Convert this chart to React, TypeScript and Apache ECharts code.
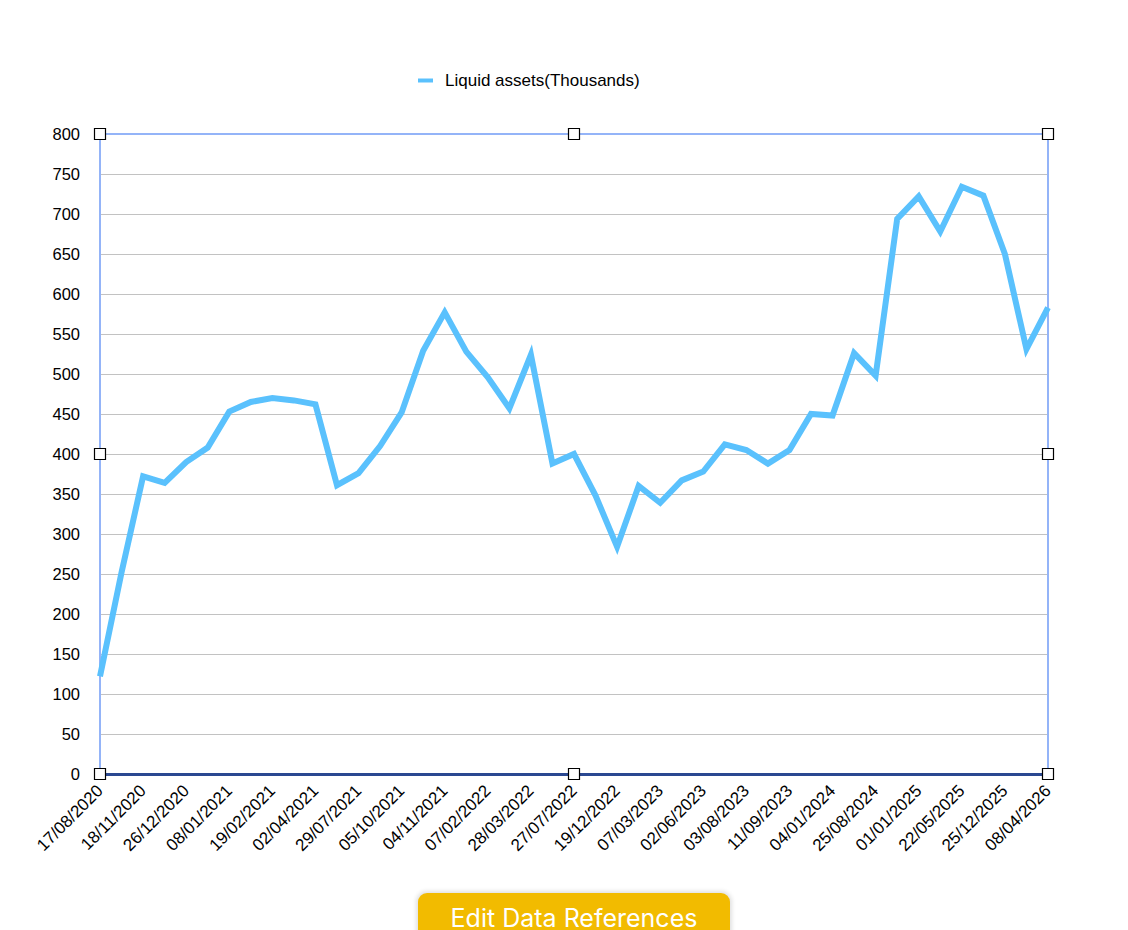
import React, { useEffect, useRef } from "react";
import * as echarts from "echarts";

const shownDates = [
  "17/08/2020", "18/11/2020", "26/12/2020", "08/01/2021", "19/02/2021", "02/04/2021",
  "29/07/2021", "05/10/2021", "04/11/2021", "07/02/2022", "28/03/2022", "27/07/2022",
  "19/12/2022", "07/03/2023", "02/06/2023", "03/08/2023", "11/09/2023", "04/01/2024",
  "25/08/2024", "01/01/2025", "22/05/2025", "25/12/2025", "08/04/2026",
];

// 45 points; every other category carries a visible label
const categories: string[] = [];
shownDates.forEach((d, i) => {
  categories.push(d);
  if (i < shownDates.length - 1) categories.push("");
});

const liquidAssets = [
  122, 252, 372, 364, 390, 408, 453, 465, 470, 467, 462,
  361, 376, 410, 452, 529, 577, 528, 496, 457, 524,
  388, 400, 348, 284, 360, 339, 367, 378, 412, 405,
  388, 405, 450, 448, 526, 498, 694, 722, 678, 734,
  723, 650, 531, 583,
];

const yTicks = { min: 0, max: 800, interval: 50 };

const GRID = { left: 100, right: 80, top: 134, bottom: 156 };
const W = 1128;
const H = 930;
const FRAME = "#94b4f8";

export default function App() {
  const ref = useRef<HTMLDivElement>(null);
  useEffect(() => {
    if (!ref.current) return;
    const chart = echarts.init(ref.current, null, { renderer: "svg" });
    const x0 = GRID.left;
    const x1 = W - GRID.right;
    const y0 = GRID.top;
    const y1 = H - GRID.bottom;
    const xm = (x0 + x1) / 2;
    const ym = (y0 + y1) / 2;
    const hs = 11;
    const handles = [
      [x0, y0], [xm, y0], [x1, y0],
      [x0, ym], [x1, ym],
      [x0, y1], [xm, y1], [x1, y1],
    ].map(([x, y]) => ({
      type: "rect",
      shape: { x: x - hs / 2, y: y - hs / 2, width: hs, height: hs },
      style: { fill: "#ffffff", stroke: "#000000", lineWidth: 1.2 },
      z: 100,
    }));
    chart.setOption({
      animation: false,
      backgroundColor: "#ffffff",
      textStyle: { fontFamily: "Liberation Sans, Arial, sans-serif" },
      legend: {
        left: 413,
        top: 67,
        icon: "rect",
        itemWidth: 15,
        itemHeight: 4,
        textStyle: { fontSize: 17, color: "#000", padding: [0, 0, 0, 7] },
        data: ["Liquid assets(Thousands)"],
      },
      grid: { ...GRID, containLabel: false },
      xAxis: [
        {
          type: "category",
          data: categories,
          boundaryGap: false,
          axisLine: { show: true, onZero: false, lineStyle: { color: "#2a4891", width: 3 } },
          axisTick: { show: false },
          splitLine: { show: false },
          axisLabel: {
            interval: 1,
            rotate: 45,
            fontSize: 17,
            color: "#000",
            margin: 14,
          },
          z: 10,
        },
        {
          type: "category",
          data: categories,
          position: "top",
          boundaryGap: false,
          axisLine: { show: true, onZero: false, lineStyle: { color: FRAME, width: 2 } },
          axisTick: { show: false },
          axisLabel: { show: false },
          splitLine: { show: false },
          z: 10,
        },
      ],
      yAxis: [
        {
          type: "value",
          ...yTicks,
          axisLine: { show: true, onZero: false, lineStyle: { color: FRAME, width: 2 } },
          axisTick: { show: false },
          splitLine: { show: true, lineStyle: { color: "#c2c2c2", width: 1 } },
          axisLabel: { fontSize: 16.5, color: "#000", margin: 20 },
        },
        {
          type: "value",
          ...yTicks,
          position: "right",
          axisLine: { show: true, onZero: false, lineStyle: { color: FRAME, width: 2 } },
          axisTick: { show: false },
          splitLine: { show: false },
          axisLabel: { show: false },
        },
      ],
      series: [
        {
          name: "Liquid assets(Thousands)",
          type: "line",
          data: liquidAssets,
          symbol: "none",
          color: "#5ac1fd",
          lineStyle: { color: "#5ac1fd", width: 6, join: "miter", miterLimit: 10 },
          z: 5,
        },
      ],
      graphic: handles,
    });
    return () => chart.dispose();
  }, []);
  return (
    <div style={{ position: "absolute", left: 0, top: 0, width: W, height: H, overflow: "hidden", background: "#fff" }}>
      <div ref={ref} style={{ position: "absolute", left: 0, top: 0, width: W, height: H }} />
      <div
        style={{
          position: "absolute",
          left: 418,
          top: 893,
          width: 312,
          height: 50,
          background: "#f2bb00",
          borderRadius: 9,
          boxShadow: "0 0 4px 2px rgba(0,0,0,0.12)",
          color: "#fff",
          fontFamily: "Inter, 'Open Sans', sans-serif",
          fontSize: 25,
          textAlign: "center",
          lineHeight: "50px",
          boxSizing: "border-box",
        }}
      >
        Edit Data References
      </div>
    </div>
  );
}
